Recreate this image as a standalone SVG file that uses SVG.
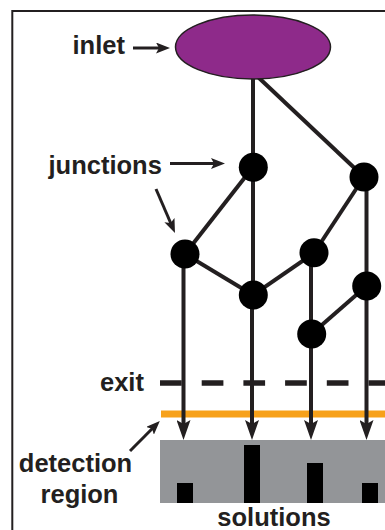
<svg xmlns="http://www.w3.org/2000/svg" width="385" height="530" viewBox="0 0 385 530">
<style>
.lbl{font-family:"Liberation Sans",Arial,sans-serif;font-weight:bold;font-size:25.5px;fill:#231F20}
.edge{stroke:#231F20;stroke-width:4;fill:none}
.flow{stroke:#231F20;stroke-width:4;fill:none;marker-end:url(#bigHead)}
.ptr{stroke:#231F20;stroke-width:3;fill:none;marker-end:url(#smallHead)}
.jn{fill:#000}
.bar{fill:#000}
</style>
<defs>
<marker id="bigHead" markerUnits="userSpaceOnUse" markerWidth="20" markerHeight="14" viewBox="0 0 20 14" refX="10" refY="7" orient="auto">
<path d="M0,0 L20,7 L0,14 L4,7 Z" fill="#231F20"/>
</marker>
<marker id="smallHead" markerUnits="userSpaceOnUse" markerWidth="14" markerHeight="11" viewBox="0 0 14 11" refX="8" refY="5.5" orient="auto">
<path d="M0,0 L14,5.5 L0,11 L3,5.5 Z" fill="#231F20"/>
</marker>
</defs>
<rect width="385" height="530" fill="#fff"/>
<path d="M12.3,532 V11 H388" fill="none" stroke="#231F20" stroke-width="2"/>

<g id="detection-region">
<rect x="160" y="440" width="230" height="63" fill="#939598"/>
<rect class="bar" x="177" y="483" width="16" height="20"/>
<rect class="bar" x="244" y="445" width="16" height="58"/>
<rect class="bar" x="307" y="463" width="16" height="40"/>
<rect class="bar" x="362" y="483" width="16" height="20"/>
</g>
<g id="orange-line">
<line x1="161" y1="414" x2="390" y2="414" stroke="#F7A11A" stroke-width="7"/>
</g>
<g id="exit-line">
<line x1="160" y1="383" x2="390" y2="383" stroke="#231F20" stroke-width="5.5" stroke-dasharray="21.7 20"/>
</g>

<g id="connectors">
<line class="edge" x1="253" y1="60" x2="253" y2="167"/>
<line class="edge" x1="258" y1="77" x2="364" y2="177"/>
<line class="edge" x1="253" y1="167" x2="185" y2="254"/>
<line class="edge" x1="253" y1="167" x2="253" y2="295"/>
<line class="edge" x1="185" y1="254" x2="253" y2="295"/>
<line class="edge" x1="253" y1="295" x2="314" y2="253"/>
<line class="edge" x1="364" y1="177" x2="314" y2="253"/>
<line class="edge" x1="366.5" y1="177" x2="366.5" y2="286"/>
<line class="edge" x1="366.5" y1="286" x2="311.5" y2="334"/>
<line class="edge" x1="311" y1="253" x2="311" y2="334"/>
<line class="flow" x1="183.5" y1="254" x2="183.5" y2="430"/>
<line class="flow" x1="252" y1="295" x2="252" y2="430"/>
<line class="flow" x1="311" y1="334" x2="311" y2="430"/>
<line class="flow" x1="366.5" y1="286" x2="366.5" y2="430"/>
<line class="ptr" x1="133" y1="48" x2="164" y2="48"/>
<line class="ptr" x1="170" y1="163.5" x2="219" y2="163.5"/>
<line class="ptr" x1="156" y1="189" x2="172.6" y2="227.5"/>
<line class="ptr" x1="130" y1="451" x2="155.6" y2="425.2"/>
</g>

<g id="inlet">
<ellipse cx="253" cy="47" rx="77.5" ry="32" fill="#8E2A8A" stroke="#231F20" stroke-width="1.5"/>
</g>
<g id="j1"><circle class="jn" cx="253.3" cy="167.3" r="14.5"/></g>
<g id="j2"><circle class="jn" cx="364" cy="177" r="14.5"/></g>
<g id="j3"><circle class="jn" cx="185" cy="254" r="14.5"/></g>
<g id="j4"><circle class="jn" cx="253.3" cy="295" r="14.5"/></g>
<g id="j5"><circle class="jn" cx="314" cy="252.7" r="14.5"/></g>
<g id="j6"><circle class="jn" cx="366.7" cy="286" r="14.5"/></g>
<g id="j7"><circle class="jn" cx="311.7" cy="334" r="14.5"/></g>

<g id="labels">
<text class="lbl" x="72.5" y="54.3">inlet</text>
<text class="lbl" x="48.5" y="174.3">junctions</text>
<text class="lbl" x="100" y="390.7">exit</text>
<text class="lbl" x="75.5" y="472" text-anchor="middle">detection</text>
<text class="lbl" x="79.5" y="502.5" text-anchor="middle">region</text>
<text class="lbl" x="274" y="525.5" text-anchor="middle">solutions</text>
</g>
</svg>
